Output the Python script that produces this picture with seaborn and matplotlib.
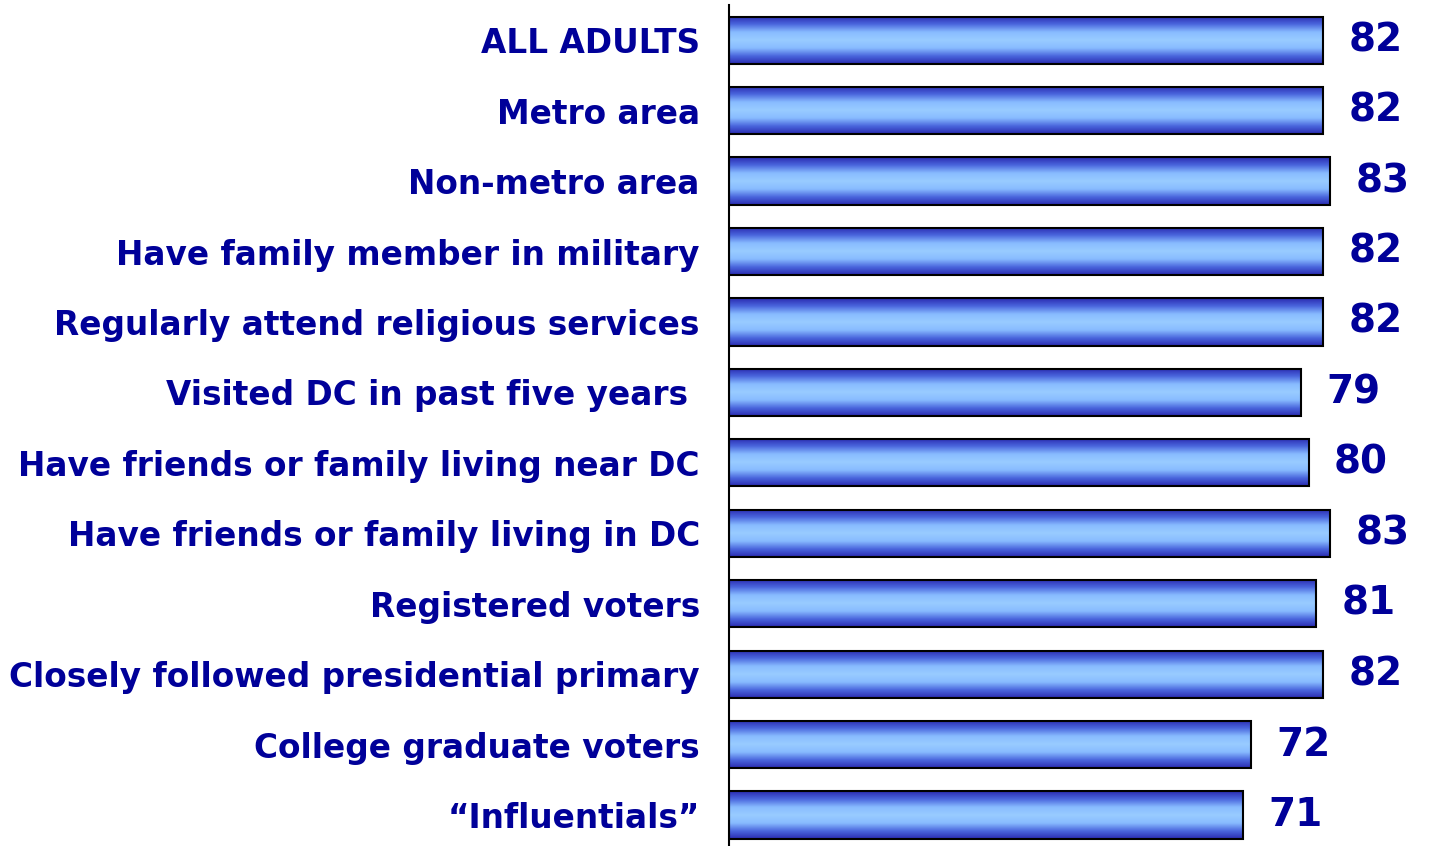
import numpy as np
import pandas as pd
import matplotlib
matplotlib.use('Agg')
import matplotlib.pyplot as plt
from matplotlib.colors import LinearSegmentedColormap
import seaborn as sns

categories = [
    'ALL ADULTS',
    'Metro area',
    'Non-metro area',
    'Have family member in military',
    'Regularly attend religious services',
    'Visited DC in past five years ',
    'Have friends or family living near DC',
    'Have friends or family living in DC',
    'Registered voters',
    'Closely followed presidential primary',
    'College graduate voters',
    '\u201cInfluentials\u201d',
]
values = [82, 82, 83, 82, 82, 79, 80, 83, 81, 82, 72, 71]

df = pd.DataFrame({'group': categories, 'pct': values})

sns.set_style('white')
plt.rcParams['font.family'] = ['DejaVu Sans']

navy = '#000099'
fig = plt.figure(figsize=(14.31, 8.46), dpi=100)
ax = fig.add_axes([729 / 1431, 0, 702 / 1431, 1 - 5 / 846])

sns.barplot(data=df, x='pct', y='group', orient='h', color='#6699ff',
            edgecolor='black', linewidth=1.5, width=0.67, ax=ax)

# vertical gradient inside each bar
grad = LinearSegmentedColormap.from_list(
    'bar', ['#2a2ab0', '#4a66dd', '#88bbff', '#99ccff', '#88bbff', '#4a66dd', '#2a2ab0'])
g = np.linspace(0, 1, 256).reshape(-1, 1)
for p in ax.patches:
    x0, y0 = p.get_x(), p.get_y()
    w, h = p.get_width(), p.get_height()
    im = ax.imshow(g, cmap=grad, aspect='auto', extent=[x0, x0 + w, y0 + h, y0],
                   zorder=p.get_zorder() + 0.1, interpolation='bilinear')
    im.set_clip_path(p)
    p.set_facecolor('none')
    p.set_zorder(p.get_zorder() + 0.2)

for i, v in enumerate(values):
    ax.text(v + 3.5, i, str(v), va='center', ha='left', fontsize=28,
            fontweight='bold', color=navy)

ax.set_xlim(0, 96.9)
ax.set_ylim(11.44, -0.5)
ax.set_xlabel('')
ax.set_ylabel('')
ax.set_xticks([])
ax.tick_params(axis='y', length=0, pad=21)
for lbl in ax.get_yticklabels():
    lbl.set_fontsize(23.6)
    lbl.set_fontweight('bold')
    lbl.set_color(navy)
for s in ['top', 'right', 'bottom']:
    ax.spines[s].set_visible(False)
ax.spines['left'].set_color('black')
ax.spines['left'].set_linewidth(1.5)

fig.savefig('out.png', dpi=100)
